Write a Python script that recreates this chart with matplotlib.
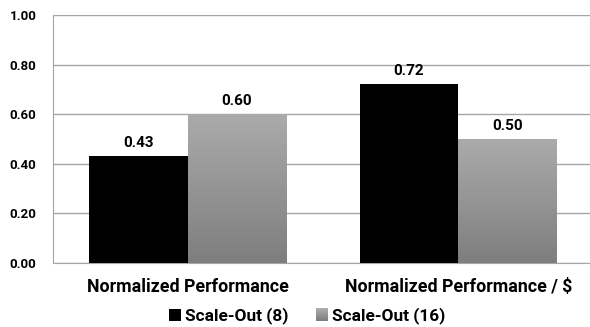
import numpy as np
import matplotlib
matplotlib.use("Agg")
import matplotlib.pyplot as plt
from matplotlib.patches import Patch, Rectangle
from matplotlib.colors import LinearSegmentedColormap
from matplotlib.legend_handler import HandlerBase

categories = ["Normalized Performance", "Normalized Performance / $"]
series_names = ["Scale-Out (8)", "Scale-Out (16)"]
scale_out_8 = [0.43, 0.72]
scale_out_16 = [0.60, 0.50]
y_ticks = [0.0, 0.2, 0.4, 0.6, 0.8, 1.0]

plt.rcParams["font.family"] = ["Roboto", "DejaVu Sans"]
plt.rcParams["font.weight"] = "bold"

W, H = 590, 327
fig = plt.figure(figsize=(W / 100, H / 100), dpi=100)
ax = fig.add_axes([52.5 / W, (H - 263) / H, 541 / W, 248 / H])

x = np.arange(len(categories))
bw = 0.364
grey_cmap = LinearSegmentedColormap.from_list("greys", ["#7e7e7e", "#ababab"])

bars8 = ax.bar(x - bw / 2, scale_out_8, bw, color="black", zorder=3)
bars16 = ax.bar(x + bw / 2, scale_out_16, bw, color="none", zorder=3)

# vertical gradient fill for the second series, lighter at the top of each bar
grad = np.linspace(0, 1, 256).reshape(-1, 1)
for b in bars16:
    x0, y0 = b.get_x(), b.get_y()
    w, h = b.get_width(), b.get_height()
    ax.imshow(grad, cmap=grey_cmap, origin="lower", aspect="auto",
              extent=[x0, x0 + w, y0, y0 + h], zorder=3)

for bars, vals in ((bars8, scale_out_8), (bars16, scale_out_16)):
    for b, v in zip(bars, vals):
        ax.text(b.get_x() + b.get_width() / 2, v + 0.025, f"{v:.2f}",
                ha="center", va="bottom", fontsize=11, fontweight="bold")

ax.set_xlim(-0.5, 1.5)
ax.set_ylim(0, 1.0)
ax.set_yticks(y_ticks)
ax.set_yticklabels([f"{t:.2f}" for t in y_ticks], fontsize=9.6, fontweight="bold")
ax.set_xticks(x)
ax.set_xticklabels(categories, fontsize=12.8, fontweight="bold")
ax.tick_params(axis="x", length=0, pad=11)
ax.tick_params(axis="y", length=0, pad=11.5)

ax.grid(axis="y", color="#a6a6a6", linewidth=1.0, zorder=0)
ax.set_axisbelow(True)
for s in ("top", "right"):
    ax.spines[s].set_visible(False)
ax.spines["left"].set_color("#a6a6a6")
ax.spines["bottom"].set_color("#a6a6a6")


class GradientSquare(HandlerBase):
    """Legend key drawn as a stack of thin strips shading from light to dark."""
    def create_artists(self, legend, orig_handle, xdescent, ydescent,
                       width, height, fontsize, trans):
        n = 16
        artists = []
        for i in range(n):
            c = grey_cmap(i / (n - 1))
            artists.append(Rectangle((-xdescent, -ydescent + height * i / n),
                                     width, height / n + 0.3, facecolor=c,
                                     edgecolor="none", transform=trans))
        return artists


h8 = Patch(facecolor="black", edgecolor="none")
h16 = Patch(facecolor="#9a9a9a", edgecolor="none")
fig.legend([h8, h16], series_names, loc="center", bbox_to_anchor=(307.5 / W, (H - 316) / H),
           ncol=2, frameon=False, handlelength=0.68, handleheight=0.68,
           handletextpad=0.25, columnspacing=1.6, prop={"weight": "bold", "size": 12.4},
           handler_map={h16: GradientSquare()})

fig.savefig("out.png", dpi=100)
